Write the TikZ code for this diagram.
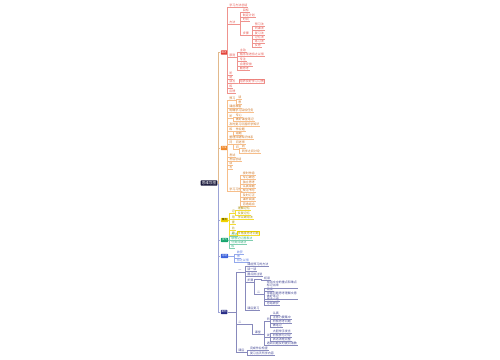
\documentclass[tikz,border=0pt]{standalone}
\usepackage{fontspec}
\newfontfamily\cjk{Noto Sans CJK SC}
\usetikzlibrary{calc}
\definecolor{cRoot}{HTML}{1B1A3D}
\definecolor{cR}{HTML}{E23B32}
\definecolor{cO}{HTML}{F0892B}
\definecolor{cY}{HTML}{F2D500}
\definecolor{cYt}{HTML}{A89000}
\definecolor{cG}{HTML}{16A56E}
\definecolor{cB}{HTML}{3C62DC}
\definecolor{cN}{HTML}{262B85}
\definecolor{cSpU}{HTML}{E2B98C}
\definecolor{cSpL}{HTML}{9CA3D6}
\tikzset{
  lf/.style={anchor=west, inner xsep=0.3pt, inner ysep=0.2pt, font=\cjk\fontsize{1.5}{1.7}\selectfont},
  bx/.style={anchor=west, inner xsep=0.4pt, inner ysep=0.5pt, font=\cjk\fontsize{1.2}{1.4}\selectfont, text=white, rounded corners=0.3pt},
  wbx/.style={bx, inner xsep=0.6pt},
  ln/.style={line width=0.3pt},
  rl/.style={lf,text=cR!85},
  ol/.style={lf,text=cO!85!black},
  yl/.style={lf,text=cYt},
  gl/.style={lf,text=cG!85},
  bl/.style={lf,text=cB!85},
  nl/.style={lf,text=cN!85},
}
\newcommand\lk[3]{\draw[ln,#1] (#2) -| ([xshift=-0.8pt]#3.south west) -- (#3.south west) -- (#3.south east);}
\newcommand\lks[3]{\foreach \cn in {#3}{\lk{#1}{#2}{\cn}}}
\begin{document}
\begin{tikzpicture}[x=0.5pt,y=-0.5pt]
\fill[white] (0,0) rectangle (500,360);
\useasboundingbox (0,0) rectangle (500,360);

% root and branch boxes
\node[fill=cRoot,text=white,font=\cjk\fontsize{1.8}{2}\selectfont,inner xsep=0.6pt,inner ysep=0.5pt,rounded corners=0.3pt] (R) at (209,183) {思维导图};
\node[bx,fill=cR] (B1) at (220.5,52.5) {概述};
\node[bx,fill=cO] (B2) at (220.5,148) {方法};
\node[wbx,fill=cY,text=black] (B3) at (220.5,220) {要点};
\node[wbx,fill=cG] (B4) at (220.5,240) {技巧};
\node[wbx,fill=cB] (B5) at (220.5,256) {总结};
\node[bx,fill=cN] (B6) at (220.5,312) {案例};

\draw[ln,cSpL] (R.east) -| ([xshift=-0.9pt]B3.west) -- (B3.west);
\draw[ln,cSpL] (R.east) -| ([xshift=-0.9pt]B4.west) -- (B4.west);
\draw[ln,cSpL] (R.east) -| ([xshift=-0.9pt]B5.west) -- (B5.west);
\draw[ln,cSpL] (R.east) -| ([xshift=-0.9pt]B6.west) -- (B6.west);
\draw[ln,cSpU] (R.east) -| ([xshift=-0.9pt]B2.west) -- (B2.west);
\draw[ln,cSpU] (R.east) -| ([xshift=-0.9pt]B1.west) -- (B1.west);

% red branch
\node[rl] (r1) at (228.5,5) {学习方法总结};
\node[rl] (r2) at (228.5,22) {方法};
\node[rl] (r2a) at (242,10) {目标};
\node[rl] (r2b) at (242,15) {制定计划};
\node[rl] (r2c) at (242,19) {时间};
\node[rl] (r2d) at (242,33) {步骤};
\node[rl] (r2d1) at (254,24) {预习法};
\node[rl] (r2d2) at (254,28) {听课法};
\node[rl] (r2d3) at (254,33) {复习法};
\node[rl] (r2d4) at (254,37) {记忆法};
\node[rl] (r2d5) at (254,41) {练习法};
\node[rl] (r2d6) at (254,45) {反思};
\node[rl] (r3) at (228.5,55) {原则};
\node[rl] (r3a) at (239,50) {主动};
\node[rl] (r3b) at (239,54) {循序渐进持之以恒};
\node[rl] (r3c) at (239,59) {专注};
\node[rl] (r3d) at (239,64) {合理安排};
\node[rl] (r3e) at (239,68) {勤思考};
\node[rl] (r4) at (228.5,73) {听};
\node[rl] (r5) at (228.5,77) {说};
\node[rl] (r6) at (228.5,81) {读写};
\node[rl,draw=cR!60,line width=0.2pt] (r6a) at (239,81) {培养良好学习习惯};
\node[rl] (r7) at (228.5,86) {练};
\node[rl] (r8) at (228.5,91) {反馈};
\lks{cR!55}{B1.east}{r1,r2,r3,r4,r5,r6,r7,r8}
\lks{cR!55}{r2.south east}{r2a,r2b,r2c,r2d}
\lks{cR!55}{r2d.south east}{r2d1,r2d2,r2d3,r2d4,r2d5,r2d6}
\lks{cR!55}{r3.south east}{r3a,r3b,r3c,r3d,r3e}
\lk{cR!55}{r6.south east}{r6a}

% orange branch
\node[ol] (o1) at (228.5,98) {预习};
\node[ol] (o1a) at (237.5,97) {读};
\node[ol] (o1b) at (237.5,102) {思};
\node[ol] (o2) at (228.5,106) {课前准备};
\node[ol] (o3) at (228.5,110) {明确学习目标任务};
\node[ol] (o4) at (228.5,116) {听};
\node[ol] (o4a) at (235,115) {专心};
\node[ol] (o4b) at (235,119) {做好课堂笔记};
\node[ol] (o5) at (228.5,124) {及时复习巩固所学知识};
\node[ol] (o6) at (228.5,129) {练};
\node[ol] (o6a) at (235,129) {作业题};
\node[ol] (o6b) at (235,133) {错题};
\node[ol] (o7) at (228.5,137) {整理归纳知识体系};
\node[ol] (o8) at (228.5,142) {问};
\node[ol] (o8a) at (235,142) {问老师};
\node[ol] (o8b) at (235,147.5) {问};
\node[ol] (o8b1) at (241,146) {同};
\node[ol] (o8b2) at (241,151) {同学之间讨论};
\node[ol] (o9) at (228.5,155) {考试};
\node[ol] (o10) at (228.5,159) {考后总结};
\node[ol] (o11) at (228.5,163) {读};
\node[ol] (o12) at (228.5,167) {写};
\node[ol] (o13) at (228.5,189) {学习习惯};
\node[ol] (o13a) at (242,173) {按时作息};
\node[ol] (o13b) at (242,177) {专心致志};
\node[ol] (o13c) at (242,182) {独立思考};
\node[ol] (o13d) at (242,186) {认真审题};
\node[ol] (o13e) at (242,190) {规范书写};
\node[ol] (o13f) at (242,195) {及时订正};
\node[ol] (o13g) at (242,199) {课外阅读};
\node[ol] (o13h) at (242,204) {劳逸结合};
\lks{cO!55}{B2.east}{o1,o2,o3,o4,o5,o6,o7,o8,o9,o10,o11,o12,o13}
\lks{cO!55}{o1.south east}{o1a,o1b}
\lks{cO!55}{o4.south east}{o4a,o4b}
\lks{cO!55}{o6.south east}{o6a,o6b}
\lks{cO!55}{o8.south east}{o8a,o8b}
\lks{cO!55}{o8b.south east}{o8b1,o8b2}
\lks{cO!55}{o13.south east}{o13a,o13b,o13c,o13d,o13e,o13f,o13g,o13h}

% yellow branch
\node[yl] (y1) at (231,211) {记};
\node[yl] (y1a) at (237,208) {理解记忆};
\node[yl] (y1b) at (237,213) {反复记忆};
\node[yl] (y2) at (231,217) {用};
\node[yl] (y2a) at (237,217) {学以致用法};
\node[yl] (y3) at (231,222) {查};
\node[yl] (y4) at (231,228) {比};
\node[yl] (y5) at (231,233) {思};
\node[yl,draw=cY,line width=0.2pt] (y5a) at (237,233) {多角度思考问题};
\lks{cY!80}{B3.east}{y1,y2,y3,y4,y5}
\lks{cY!80}{y1.south east}{y1a,y1b}
\lk{cY!80}{y2.south east}{y2a}
\lk{cY!80}{y5.south east}{y5a}

% green branch
\node[gl] (g1) at (230.5,234) {方法};
\node[gl] (g2) at (230.5,238) {联想记忆图表法};
\node[gl] (g3) at (230.5,242) {分类归纳法};
\node[gl] (g4) at (230.5,246) {练};
\lks{cG!55}{B4.east}{g1,g2,g3,g4}

% blue branch
\node[bl] (b1) at (236,252) {收获};
\node[bl] (b2) at (236,256) {得};
\node[bl] (b3) at (236,260) {持之以恒};
\lks{cB!55}{B5.east}{b1,b2,b3}

% navy branch
\node[nl] (n1) at (237.5,271) {一};
\node[nl] (n1a) at (246.5,264) {课前预习的方法};
\node[nl] (n1b) at (246.5,269) {读一读};
\node[nl] (n1c) at (246.5,274) {圈点批注划};
\node[nl] (n1d) at (246.5,280) {步骤};
\node[nl] (n1d1) at (256,278) {一};
\node[nl] (n1d1a) at (263,278) {初读};
\node[nl] (n1d2) at (256,292) {二};
\node[nl,align=left] (n1d2a) at (266,284) {找出文中的重点和难点\\标记出来};
\node[nl] (n1d2b) at (266,289) {精读};
\node[nl,align=left] (n1d2c) at (266,295) {带着问题思考理解文意\\做好笔记};
\node[nl] (n1d2d) at (266,299) {再读一遍};
\node[nl] (n1d2e) at (266,303) {总结收获};
\node[nl] (n1e) at (246.5,308) {课后复习};
\node[nl] (n2) at (237.5,322) {二};
\node[nl] (m1) at (254,332) {课堂};
\node[nl] (p1) at (266,319) {听};
\node[nl] (p1a) at (272,313) {认真};
\node[nl] (p1b) at (272,317) {注意力要集中};
\node[nl] (p1c) at (272,321) {积极思考问题};
\node[nl] (p1d) at (272,325) {做笔记};
\node[nl] (p2) at (266,335) {说};
\node[nl] (p2a) at (272,331) {大胆举手发言};
\node[nl] (p2b) at (272,335) {积极参与讨论};
\node[nl] (p2c) at (272,339) {表达清楚完整};
\node[nl] (p3) at (266,343) {遇到问题及时提问请教};
\node[nl] (n3) at (237.5,350) {课后};
\node[nl] (n3a) at (249,348) {完成作业检查};
\node[nl] (n3b) at (249,353) {复习当天所学内容};
\lks{cN!55}{B6.east}{n1,n2,n3}
\lks{cN!55}{n1.south east}{n1a,n1b,n1c,n1d,n1e}
\lks{cN!55}{n1d.south east}{n1d1,n1d2}
\lk{cN!55}{n1d1.south east}{n1d1a}
\lks{cN!55}{n1d2.south east}{n1d2a,n1d2b,n1d2c,n1d2d,n1d2e}
\lk{cN!55}{n2.south east}{m1}
\lks{cN!55}{m1.south east}{p1,p2,p3}
\lks{cN!55}{p1.south east}{p1a,p1b,p1c,p1d}
\lks{cN!55}{p2.south east}{p2a,p2b,p2c}
\lks{cN!55}{n3.south east}{n3a,n3b}
\end{tikzpicture}
\end{document}
